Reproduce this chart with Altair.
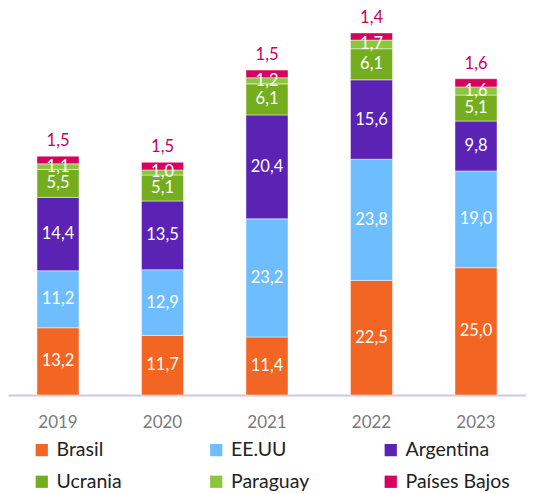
import altair as alt
import pandas as pd

years = ["2019", "2020", "2021", "2022", "2023"]
countries = ["Brasil", "EE.UU", "Argentina", "Ucrania", "Paraguay", "Países Bajos"]
colors = ["#F26522", "#6EBEFF", "#5B23B4", "#74AE1F", "#8CC63F", "#D6005F"]

brasil = [13.2, 11.7, 11.4, 22.5, 25.0]
eeuu = [11.2, 12.9, 23.2, 23.8, 19.0]
argentina = [14.4, 13.5, 20.4, 15.6, 9.8]
ucrania = [5.5, 5.1, 6.1, 6.1, 5.1]
paraguay = [1.1, 1.0, 1.2, 1.7, 1.6]
paises_bajos = [1.5, 1.5, 1.5, 1.4, 1.6]

series = [brasil, eeuu, argentina, ucrania, paraguay, paises_bajos]
rows = []
for ci, (c, vals) in enumerate(zip(countries, series)):
    for y, v in zip(years, vals):
        rows.append({"year": y, "country": c, "value": v, "order": ci})
df = pd.DataFrame(rows)

FONT = "Lato"

base = alt.Chart(df).transform_stack(
    stack="value", groupby=["year"], as_=["v0", "v1"],
    sort=[alt.SortField("order", order="ascending")]
).transform_calculate(
    mid="(datum.v0 + datum.v1) / 2",
    label="replace(format(datum.value, '.1f'), '.', ',')"
)

xenc = alt.X("year:N", title=None,
             scale=alt.Scale(paddingInner=0.598, paddingOuter=0.2775),
             axis=alt.Axis(labelAngle=0, ticks=False, domainColor="#C9C9EC",
                           domainWidth=2, labelPadding=19, labelFontSize=17,
                           labelColor="#7A7A7A", labelFont=FONT))
yscale = alt.Scale(domain=[0, 76.0], nice=False)

bars = base.mark_bar(stroke="white", strokeWidth=1, strokeOpacity=0.45).encode(
    x=xenc,
    y=alt.Y("v0:Q", scale=yscale, axis=None),
    y2="v1:Q",
    color=alt.Color("country:N", sort=countries,
                    scale=alt.Scale(domain=countries, range=colors),
                    legend=alt.Legend(orient="none", legendX=24, legendY=432,
                                      direction="horizontal", columns=3,
                                      gridAlign="all", columnPadding=45.5,
                                      rowPadding=11, symbolType="square",
                                      symbolSize=150, symbolStrokeWidth=0,
                                      labelFontSize=19.5, labelFont=FONT,
                                      labelColor="#222222", labelOffset=5,
                                      title=None)),
)

inner = base.transform_filter(alt.datum.country != "Países Bajos").mark_text(
    color="white", fontSize=16.5, font=FONT, baseline="middle"
).encode(
    x=alt.X("year:N"),
    y=alt.Y("mid:Q", scale=yscale),
    text="label:N",
)

top = base.transform_filter(alt.datum.country == "Países Bajos").mark_text(
    color="#C8005A", fontSize=16.5, font=FONT, baseline="middle", dy=-15
).encode(
    x=alt.X("year:N"),
    y=alt.Y("v1:Q", scale=yscale),
    text="label:N",
)

chart = alt.layer(bars, inner, top).properties(
    width=518, height=387,
    autosize=alt.AutoSizeParams(type="none"),
    padding={"left": 0, "top": 0, "right": 0, "bottom": 100},
).configure_view(stroke=None)

chart.save("out.html", embed_options={"renderer": "svg", "actions": False})
